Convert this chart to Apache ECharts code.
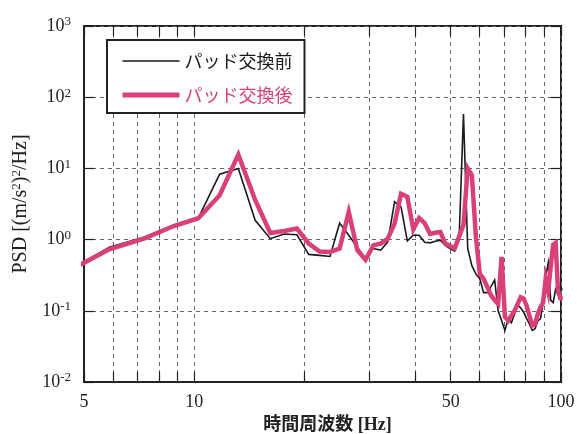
<!DOCTYPE html>
<html>
<head>
<meta charset="utf-8">
<script src="https://cdn.jsdelivr.net/npm/echarts@6/dist/echarts.min.js"></script>
<style>
html, body { margin: 0; padding: 0; background: #fff; }
#main { width: 577px; height: 434px; }
</style>
</head>
<body>
<div id="main"></div>
<script>
// frequency bins [Hz]
var freq = [4.39, 5.86, 7.32, 8.79, 10.25, 11.72, 13.18, 14.65, 16.11, 17.58,
    19.04, 20.51, 21.97, 23.44, 24.90, 26.37, 27.83, 29.30, 30.76, 32.23,
    33.69, 35.16, 36.62, 38.09, 39.55, 41.02, 42.48, 43.95, 45.41, 46.88,
    48.34, 49.80, 51.27, 52.73, 54.20, 55.66, 57.13, 58.59, 60.06, 61.52,
    62.99, 64.45, 65.92, 67.38, 68.85, 70.31, 71.78, 73.24, 74.71, 76.17,
    77.64, 79.10, 80.57, 82.03, 83.50, 84.96, 86.43, 87.89, 89.36, 90.82,
    92.29, 93.75, 95.21, 96.68, 98.14, 99.61, 101.07];

// PSD before pad change
var before = [0.33, 0.78, 1.09, 1.6, 2.0, 8.3, 10.0, 1.87, 1.03, 1.2,
    1.17, 0.62, 0.6, 0.58, 1.71, 1.15, 0.78, 0.54, 0.75, 0.71,
    0.93, 3.4, 2.88, 0.96, 1.15, 1.15, 0.92, 0.9, 0.95, 0.98,
    0.83, 0.75, 0.69, 1.0, 58, 0.75, 0.43, 0.33, 0.28, 0.18,
    0.18, 0.22, 0.27, 0.1, 0.073, 0.053, 0.077, 0.068, 0.09, 0.12,
    0.11, 0.095, 0.078, 0.065, 0.053, 0.056, 0.072, 0.077, 0.13, 0.3,
    0.47, 0.14, 0.13, 0.2, 0.17, 0.2, 0.2];

// PSD after pad change
var after = [0.33, 0.73, 1.04, 1.55, 2.0, 4.2, 15.6, 3.6, 1.24, 1.32,
    1.43, 0.88, 0.68, 0.67, 0.75, 2.45, 0.71, 0.52, 0.83, 0.88,
    1.03, 1.68, 4.4, 4.0, 1.4, 2.0, 1.7, 1.2, 1.25, 1.28,
    0.88, 0.82, 0.75, 1.1, 1.6, 10, 8, 1.1, 0.33, 0.28,
    0.215, 0.165, 0.14, 0.125, 0.57, 0.082, 0.073, 0.086, 0.10, 0.125,
    0.155, 0.148, 0.118, 0.085, 0.062, 0.065, 0.09, 0.112, 0.13, 0.28,
    0.19, 0.42, 0.85, 0.9, 0.19, 0.15, 0.15];

var names = ['パッド交換前', 'パッド交換後'];
var colors = ['#1a1a1a', '#d9407a'];
var xTicks = [5, 6, 7, 8, 9, 10, 20, 30, 40, 50, 60, 70, 80, 90, 100];
var xLabels = [5, 10, 50, 100];
var yTicks = [0.01, 0.1, 1, 10, 100, 1000];

var serif = '"Liberation Serif", "DejaVu Serif", serif';
var jp = '"Noto Sans CJK JP", sans-serif';

function pairs(xs, ys) {
    return xs.map(function (x, i) { return [x, ys[i]]; });
}

function powLabel(v) {
    var e = Math.round(Math.log(v) / Math.LN10);
    return '{b|10}{s|' + e + '}';
}

var gridLine = { show: true, lineStyle: { color: '#666', type: [4, 4], width: 1 } };
var tickIn = { show: true, inside: true, length: 10, lineStyle: { color: '#222', width: 1.2 } };

var myChart = echarts.init(document.getElementById('main'));
var option = {
    animation: false,
    backgroundColor: '#fff',
    grid: {
        left: 84, right: 16, top: 26, bottom: 52,
        show: true, borderColor: '#222', borderWidth: 2,
        outerBoundsMode: 'none'
    },
    legend: {
        orient: 'vertical',
        left: 107, top: 40,
        padding: [12, 12, 9, 13],
        itemGap: 16,
        itemWidth: 57,
        itemHeight: 16,
        itemStyle: { opacity: 0 },
        backgroundColor: '#fff',
        borderColor: '#222',
        borderWidth: 2,
        borderRadius: 0,
        textStyle: { fontFamily: jp, fontSize: 18, color: colors[0] },
        data: [
            { name: names[0], textStyle: { color: colors[0] }, lineStyle: { width: 1.6 } },
            { name: names[1], textStyle: { color: colors[1] }, lineStyle: { width: 5 } }
        ]
    },
    xAxis: [
        {
            type: 'log', logBase: 10, min: 5, max: 100,
            name: '時間周波数 [Hz]',
            nameLocation: 'middle', nameGap: 29,
            nameTextStyle: { fontFamily: serif + ', ' + jp, fontSize: 18, color: '#222', fontWeight: 'bold', padding: [0, 0, 0, 10] },
            axisLine: { show: true, lineStyle: { color: '#222', width: 2 } },
            axisTick: Object.assign({ customValues: xTicks }, tickIn),
            splitLine: gridLine,
            axisLabel: {
                customValues: xLabels, margin: 11,
                fontFamily: serif, fontSize: 18, color: '#222'
            }
        },
        {
            type: 'log', logBase: 10, min: 5, max: 100, position: 'top',
            axisLine: { show: false },
            axisTick: Object.assign({ customValues: xTicks }, tickIn),
            splitLine: { show: false },
            axisLabel: { show: false }
        }
    ],
    yAxis: [
        {
            type: 'log', logBase: 10, min: 0.01, max: 1000,
            name: '{a|PSD [(m/s}{s|2}{a|)}{s|2}{a|/Hz]}',
            nameLocation: 'middle', nameGap: 52,
            nameTextStyle: {
                rich: {
                    a: { fontFamily: serif, fontSize: 20, color: '#222' },
                    s: { fontFamily: serif, fontSize: 13, color: '#222', verticalAlign: 'top', padding: [0, 0, 9, 0] }
                }
            },
            axisLine: { show: true, lineStyle: { color: '#222', width: 2 } },
            axisTick: Object.assign({ customValues: yTicks }, tickIn),
            splitLine: gridLine,
            axisLabel: {
                customValues: yTicks, margin: 13,
                formatter: powLabel,
                rich: {
                    b: { fontFamily: serif, fontSize: 18, color: '#222' },
                    s: { fontFamily: serif, fontSize: 13, color: '#222', verticalAlign: 'top', padding: [0, 0, 8, 0] }
                }
            }
        },
        {
            type: 'log', logBase: 10, min: 0.01, max: 1000, position: 'right',
            axisLine: { show: false },
            axisTick: Object.assign({ customValues: yTicks }, tickIn),
            splitLine: { show: false },
            axisLabel: { show: false }
        }
    ],
    series: [
        {
            name: names[0], type: 'line', symbol: 'none',
            xAxisIndex: 0, yAxisIndex: 0,
            lineStyle: { color: colors[0], width: 1.6, join: 'miter' },
            itemStyle: { color: colors[0] },
            data: pairs(freq, before)
        },
        {
            name: names[1], type: 'line', symbol: 'none',
            xAxisIndex: 0, yAxisIndex: 0,
            lineStyle: { color: colors[1], width: 4.5, join: 'miter' },
            itemStyle: { color: colors[1] },
            data: pairs(freq, after)
        }
    ]
};
myChart.setOption(option);
</script>
</body>
</html>
